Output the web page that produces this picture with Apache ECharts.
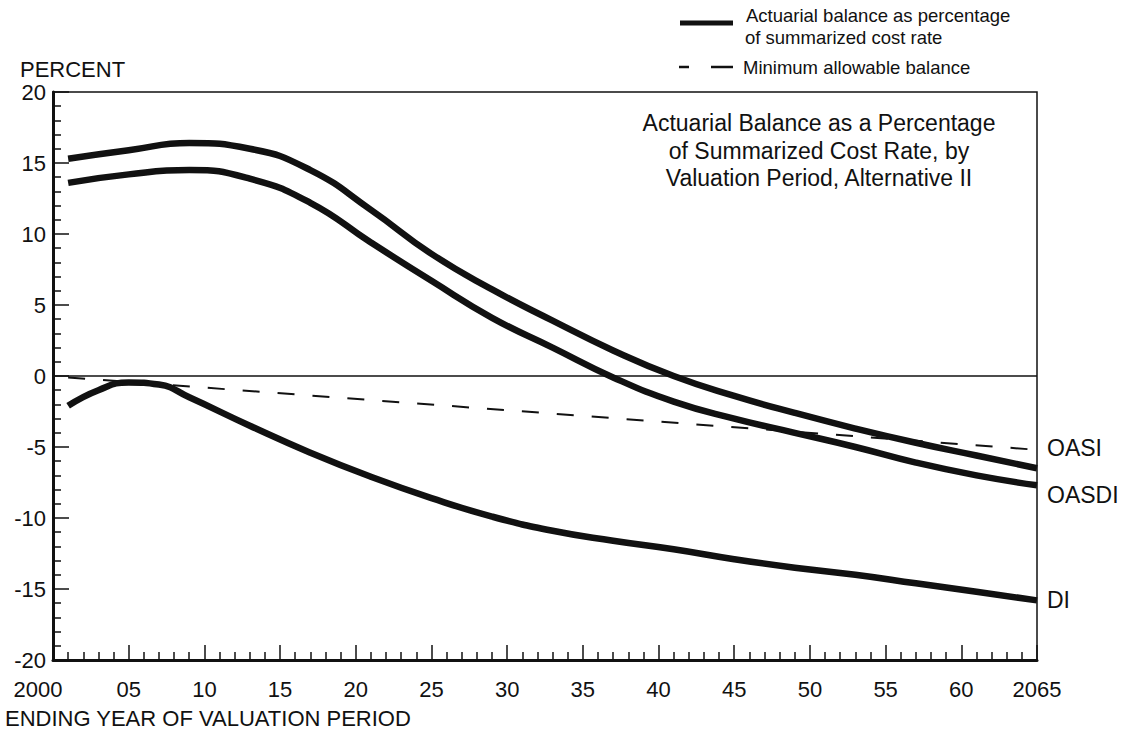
<!DOCTYPE html>
<html>
<head>
<meta charset="utf-8">
<script src="https://cdn.jsdelivr.net/npm/echarts@6/dist/echarts.min.js"></script>
<style>
html,body{margin:0;padding:0;background:#fff;}
#chart{width:1126px;height:730px;}
</style>
</head>
<body>
<div id="chart"></div>
<script>
// ---- data ----
const yearsLong = [2001, 2005, 2009, 2013, 2017, 2021, 2025, 2029, 2033, 2037, 2041, 2045, 2049, 2053, 2057, 2061, 2065];
const oasi  = [15.3, 15.9, 16.4, 16.0, 14.5, 11.7, 8.6, 6.1, 3.9, 1.8, 0.0, -1.4, -2.6, -3.7, -4.7, -5.6, -6.5];
const oasdi = [13.6, 14.2, 14.5, 13.9, 12.2, 9.4, 6.7, 4.1, 2.0, -0.1, -1.8, -3.0, -4.0, -5.0, -6.1, -7.0, -7.7];
const yearsDI = [2001, 2003, 2005, 2007, 2009, 2013, 2017, 2021, 2025, 2029, 2033, 2037, 2041, 2045, 2049, 2053, 2057, 2061, 2065];
const di    = [-2.1, -1.0, -0.45, -0.6, -1.5, -3.5, -5.4, -7.1, -8.6, -9.9, -10.9, -11.6, -12.2, -12.9, -13.5, -14.0, -14.6, -15.2, -15.8];
const minYears = [2001, 2065];
const minBalance = [-0.1, -5.2];
const xTickYears = [2000, 2005, 2010, 2015, 2020, 2025, 2030, 2035, 2040, 2045, 2050, 2055, 2060, 2065];
const xTickLabels = ['2000', '05', '10', '15', '20', '25', '30', '35', '40', '45', '50', '55', '60', '2065'];
const yTicks = [-20, -15, -10, -5, 0, 5, 10, 15, 20];
const seriesNames = ['OASI', 'OASDI', 'DI'];
const titleLines = ['Actuarial Balance as a Percentage', 'of Summarized Cost Rate, by', 'Valuation Period, Alternative II'];
const legendSolid = ['Actuarial balance as percentage', 'of summarized cost rate'];
const legendDashed = 'Minimum allowable balance';
const yName = 'PERCENT';
const xName = 'ENDING YEAR OF VALUATION PERIOD';

// ---- chart ----
const FONT = '"Liberation Sans", Arial, Helvetica, sans-serif';
const INK = '#111';
const pair = (xs, ys) => xs.map((x, i) => [x, ys[i]]);

const chart = echarts.init(document.getElementById('chart'), null, {renderer: 'svg'});

function lineSeries(name, xs, ys, labelOffset) {
  return {
    name: name,
    type: 'line',
    data: pair(xs, ys),
    smooth: 0.5,
    showSymbol: false,
    symbol: 'none',
    silent: true,
    lineStyle: {color: INK, width: 6.5, cap: 'butt'},
    endLabel: {
      show: true,
      formatter: '{a}',
      color: INK,
      fontFamily: FONT,
      fontSize: 23,
      distance: 10,
      offset: labelOffset
    },
    z: 3
  };
}

const option = {
  animation: false,
  backgroundColor: '#fff',
  grid: {left: 53, right: 89, top: 92, bottom: 70, show: true, borderColor: INK, borderWidth: 1.5, backgroundColor: 'transparent'},
  xAxis: {
    type: 'value',
    min: 2000,
    max: 2065,
    interval: 5,
    axisLine: {onZero: false, lineStyle: {color: INK, width: 3}},
    axisTick: {inside: true, length: 15, lineStyle: {color: INK, width: 1.5}},
    minorTick: {show: true, splitNumber: 5, length: 8, lineStyle: {color: INK, width: 1.5}},
    splitLine: {show: false},
    axisLabel: {
      color: INK,
      fontFamily: FONT,
      fontSize: 22,
      margin: 18,
      formatter: function (v) {
        const i = xTickYears.indexOf(v);
        const t = i >= 0 ? xTickLabels[i] : '';
        return v === 2000 ? '{first|' + t + '}' : t;
      },
      rich: {first: {fontFamily: FONT, fontSize: 22, color: INK, padding: [0, 30, 0, 0]}}
    }
  },
  yAxis: {
    type: 'value',
    min: yTicks[0],
    max: yTicks[yTicks.length - 1],
    interval: 5,
    axisLine: {show: true, lineStyle: {color: INK, width: 3}},
    axisTick: {show: true, inside: true, length: 16, lineStyle: {color: INK, width: 1.5}},
    minorTick: {show: true, splitNumber: 5, length: 8, lineStyle: {color: INK, width: 1.5}},
    splitLine: {show: false},
    axisLabel: {color: INK, fontFamily: FONT, fontSize: 22, margin: 7}
  },
  series: [
    lineSeries(seriesNames[0], yearsLong, oasi, [0, -20]),
    lineSeries(seriesNames[1], yearsLong, oasdi, [0, 10]),
    lineSeries(seriesNames[2], yearsDI, di, [0, 0]),
    {
      name: 'Minimum allowable balance',
      type: 'line',
      data: pair(minYears, minBalance),
      showSymbol: false,
      symbol: 'none',
      silent: true,
      lineStyle: {color: INK, width: 2, type: [17, 18]},
      z: 2,
      markLine: {
        silent: true,
        symbol: ['none', 'none'],
        label: {show: false},
        lineStyle: {color: INK, width: 1.5, type: 'solid'},
        data: [{yAxis: 0}]
      }
    }
  ],
  graphic: [
    {type: 'text', left: 20, top: 58, style: {text: yName, font: '22px ' + FONT, fill: INK}},
    {type: 'text', left: 5, top: 707, style: {text: xName, font: '22px ' + FONT, fill: INK}},
    {type: 'text', x: 819, y: 123, style: {text: titleLines[0], font: '23px ' + FONT, fill: INK, textAlign: 'center', textVerticalAlign: 'middle'}},
    {type: 'text', x: 819, y: 151, style: {text: titleLines[1], font: '23px ' + FONT, fill: INK, textAlign: 'center', textVerticalAlign: 'middle'}},
    {type: 'text', x: 819, y: 178, style: {text: titleLines[2], font: '23px ' + FONT, fill: INK, textAlign: 'center', textVerticalAlign: 'middle'}},
    {type: 'line', shape: {x1: 680, y1: 23, x2: 733, y2: 23}, style: {stroke: INK, lineWidth: 5}},
    {type: 'text', x: 746, y: 15, style: {text: legendSolid[0], font: '18.5px ' + FONT, fill: INK, textVerticalAlign: 'middle'}},
    {type: 'text', x: 745, y: 37, style: {text: legendSolid[1], font: '18.5px ' + FONT, fill: INK, textVerticalAlign: 'middle'}},
    {type: 'line', shape: {x1: 679, y1: 67, x2: 689, y2: 67}, style: {stroke: INK, lineWidth: 2.5}},
    {type: 'line', shape: {x1: 711, y1: 67, x2: 733, y2: 67}, style: {stroke: INK, lineWidth: 2.5}},
    {type: 'text', x: 743, y: 67, style: {text: legendDashed, font: '18.5px ' + FONT, fill: INK, textVerticalAlign: 'middle'}}
  ]
};
chart.setOption(option);
</script>
</body>
</html>
